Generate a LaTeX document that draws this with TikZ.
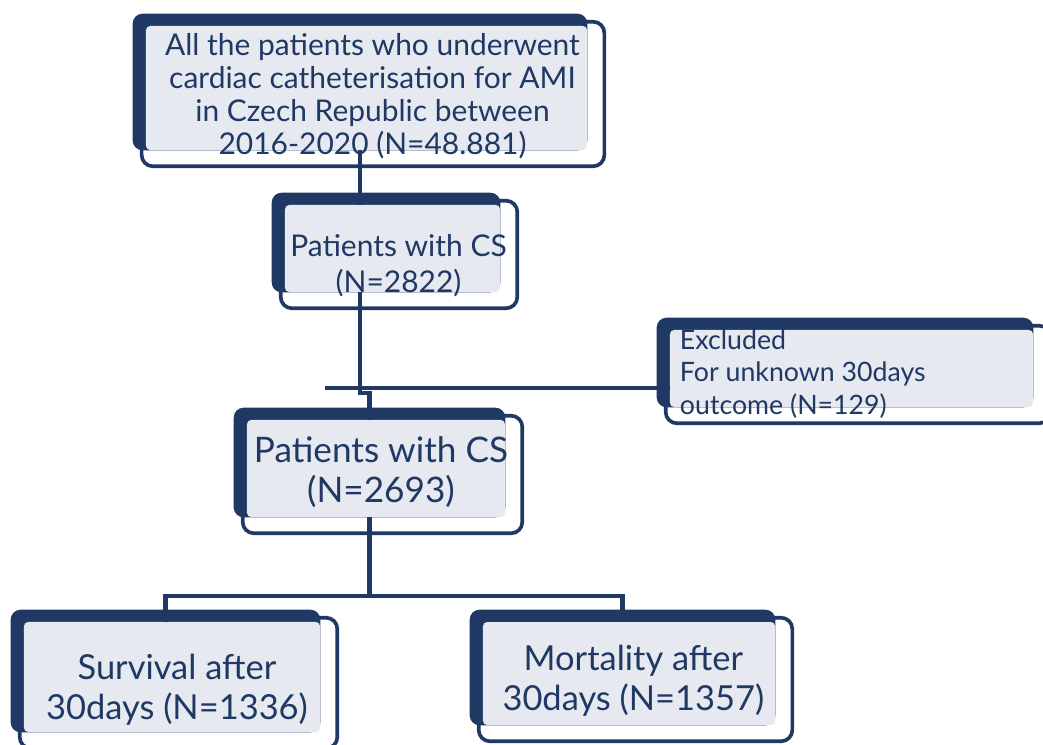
\documentclass[tikz,border=0pt]{standalone}
\usepackage{fontspec}
\setmainfont{Lato}
\usepackage{tikz}
\usetikzlibrary{positioning, backgrounds, calc}
\definecolor{navy}{HTML}{1F3864}
\definecolor{boxgray}{HTML}{E6E9EF}
\tikzstyle{gbox} = [rectangle, fill=boxgray, rounded corners=3pt,
                 inner sep=0pt]
\tikzstyle{link} = [draw=navy, line width=3pt]
\tikzset{
	btext/.style={text=navy, align=center, inner sep=0pt},
	rim/.style={draw=navy, fill=white, line width=2.6pt, rounded corners=8pt},
	slab/.style={fill=navy, rounded corners=7pt},
}
\begin{document}
\begin{tikzpicture}[x=0.025cm, y=-0.025cm]
\useasboundingbox (0,0) rectangle (1043,744);

    	%boxes
\foreach \n/\x/\y/\w/\h in {top/366.5/88/11.025/3.1, cs1/392.5/248.5/5.375/2.175,
	excl/851.5/368.5/9.075/1.925, cs2/376/468.5/6.45/2.425,
	surv/172/677/7.4/2.75, mort/629/673.5/7.3/2.575}
	\node [gbox, minimum width=\w cm, minimum height=\h cm] (\n) at (\x,\y) {};

\begin{scope}[on background layer]
\foreach \n in {top, cs1, excl, cs2, surv, mort}{
	\draw [rim] ($(\n.north west)+(-4,-4)$) rectangle ($(\n.south east)+(17,16)$);
	\path [slab] ($(\n.north west)+(-13,-12)$) rectangle (\n.south east);
}
\end{scope}

\node [btext, font=\fontsize{21.3}{23.5}\selectfont] (top txt)
	at ([xshift=0.15cm, yshift=-0.2cm]top.center)
	{All the patients who underwent\\cardiac catheterisation for AMI\\in Czech Republic between\\2016-2020 (N=48.881)};
\node [btext, font=\fontsize{21.3}{25.6}\selectfont] (cs1 txt)
	at ([xshift=0.15cm, yshift=-0.44cm]cs1.center) {Patients with CS\\(N=2822)};
\node [btext, align=left, anchor=west, font=\fontsize{19}{22.8}\selectfont] (excl txt)
	at ([xshift=0.25cm, yshift=-0.14cm]excl.west) {Excluded\\For unknown 30days\\outcome (N=129)};
\node [btext, font=\fontsize{25}{29}\selectfont] (cs2 txt)
	at ([xshift=0.125cm, yshift=-0.09cm]cs2.center) {Patients with CS\\(N=2693)};
\node [btext, font=\fontsize{24.5}{28.5}\selectfont] (surv txt)
	at ([xshift=0.125cm, yshift=-0.32cm]surv.center) {Survival after\\30days (N=1336)};
\node [btext, font=\fontsize{24.5}{28.5}\selectfont] (mort txt)
	at ([xshift=0.11cm, yshift=-0.19cm]mort.center) {Mortality after\\30days (N=1357)};

    	%connectors
\coordinate (trunk) at (360,0);
\coordinate (gate) at (325,388);
\draw [link] (top.south -| trunk) -- (cs1.north -| trunk);
\draw [link] (cs1.south -| trunk) -- ++(0,101) -| ([xshift=-0.1625cm]cs2.north);
\draw [link] (gate) -- (gate -| excl.west);
\draw [link] ([xshift=-0.1625cm]cs2.south) -- ++(0,79) coordinate (fork);
\draw [link] ([xshift=-0.1625cm]surv.north) |- (fork) -| ([xshift=-0.1625cm]mort.north);

\end{tikzpicture}
\end{document}
